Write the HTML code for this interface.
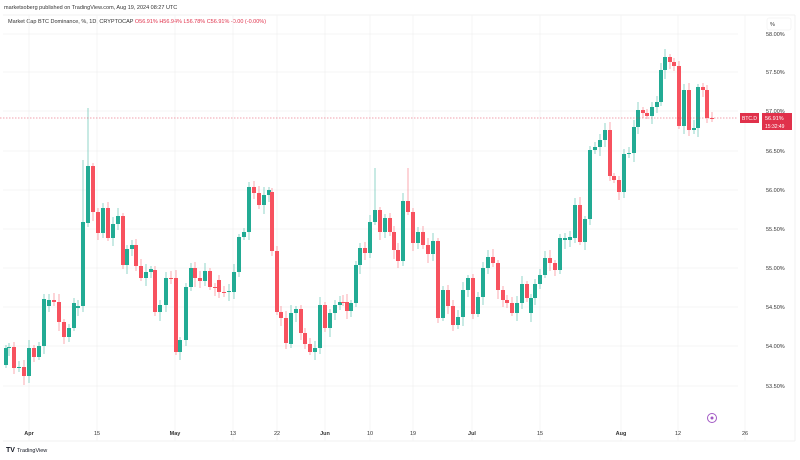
<!DOCTYPE html>
<html><head><meta charset="utf-8"><style>
html,body{margin:0;padding:0;background:#fff;width:800px;height:460px;overflow:hidden;font-family:"Liberation Sans",sans-serif}
</style></head><body>
<svg id="s" width="800" height="460" xmlns="http://www.w3.org/2000/svg" font-family="Liberation Sans, sans-serif">
<rect width="800" height="460" fill="#fff"/>
<text x="4" y="9" font-size="5.5" fill="#333">marketsoberg published on TradingView.com, Aug 19, 2024 08:27 UTC</text>
<text x="8" y="23" font-size="5.5" fill="#333">Market Cap BTC Dominance, %, 1D, CRYPTOCAP <tspan fill="#e0314b">O56.91% H56.94% L56.78% C56.91% -0.00 (-0.00%)</tspan></text>
<line x1="3" y1="15" x2="795" y2="15" stroke="#eee" stroke-width="0.8"/>
<line x1="795" y1="15" x2="795" y2="441" stroke="#eee" stroke-width="0.8"/>
<line x1="3" y1="441" x2="795" y2="441" stroke="#eee" stroke-width="0.8"/>
<g id="grid" stroke="#f2f2f2" stroke-width="0.8"></g>
<g id="c"></g>
<line x1="0" y1="118" x2="738" y2="118" stroke="#e0314b" stroke-width="0.7" stroke-dasharray="1.5,1.5" opacity="0.6"/>
<g id="ax" font-size="5.5" fill="#333"></g>
<rect x="767" y="18" width="24" height="12" rx="2" fill="#fff" stroke="#eee" stroke-width="0.6"/>
<text x="770" y="26" font-size="5.5" fill="#333">%</text>
<rect x="740" y="113" width="19" height="10" fill="#e0314b"/>
<text x="742" y="120" font-size="5" fill="#fff">BTC.D</text>
<rect x="762" y="113" width="30" height="17" fill="#e0314b"/>
<text x="765" y="120" font-size="5.5" fill="#fff">56.91%</text>
<text x="765" y="128" font-size="5" fill="#fff">15:32:49</text>
<circle cx="712" cy="418" r="4.5" fill="none" stroke="#a259c4" stroke-width="1"/>
<circle cx="712" cy="418" r="1.5" fill="#a259c4"/>
<text x="6" y="452" font-size="7" font-weight="bold" fill="#131722">TV</text>
<text x="17" y="452" font-size="5.5" fill="#131722">TradingView</text>
</svg>
<script>
var ns="http://www.w3.org/2000/svg";
function el(p,t,a,txt){var e=document.createElementNS(ns,t);for(var k in a)e.setAttribute(k,a[k]);if(txt)e.textContent=txt;document.getElementById(p).appendChild(e);return e;}
var levels=[["58.00%",34],["57.50%",72],["57.00%",111],["56.50%",151],["56.00%",190],["55.50%",229],["55.00%",268],["54.50%",307],["54.00%",346],["53.50%",386]];
levels.forEach(function(l){el("grid","line",{x1:3,x2:738,y1:l[1],y2:l[1]});el("ax","text",{x:766,y:l[1]+2},l[0]);});
var xl=[["Apr",29],["15",97],["May",175],["13",233],["22",277],["Jun",325],["10",370],["19",413],["Jul",472],["15",540],["Aug",621],["12",678],["26",745]];
xl.forEach(function(l){el("grid","line",{x1:l[1],x2:l[1],y1:15,y2:441});el("ax","text",{x:l[1],y:435,"text-anchor":"middle","font-weight":(isNaN(+l[0])?"bold":"normal")},l[0]);});
var d=[[6,365,348],[9,348,347],[14,347,368],[19,368,367],[24,367,376],[29,376,348],[34,348,357],[39,357,346],[44,346,299],[49,306,300],[54,300,302],[59,302,322],[64,322,337],[69,337,328],[74,328,303],[78,308,306],[83,306,222],[88,223,166],[93,166,212],[98,212,233],[103,233,208],[108,208,238],[113,238,224],[118,224,216],[123,216,265],[127,265,249],[132,249,245],[136,245,266],[141,266,278],[146,278,272],[151,272,269],[155,270,312],[160,312,305],[166,305,278],[171,278,279],[176,278,352],[180,352,340],[186,340,287],[191,287,268],[195,268,278],[200,278,281],[205,281,271],[210,271,287],[215,287,288],[219,280,292],[224,292,293],[229,292,291],[234,292,272],[239,272,237],[244,237,232],[249,232,187],[254,187,193],[259,193,205],[264,205,195],[269,195,190],[272,192,251],[277,251,312],[281,312,318],[286,318,343],[291,344,313],[296,313,309],[301,309,333],[305,333,344],[310,344,352],[315,352,348],[320,348,305],[325,305,328],[330,328,313],[335,313,305],[340,305,302],[343,302,303],[347,302,311],[351,311,303],[356,303,265],[360,265,248],[365,248,253],[370,253,222],[375,222,210],[380,210,232],[385,232,218],[390,218,232],[394,232,250],[398,250,261],[403,261,201],[408,201,212],[413,212,243],[418,243,232],[423,232,245],[428,245,254],[433,254,241],[438,241,318],[443,318,290],[448,290,306],[453,306,325],[458,325,317],[463,317,290],[468,290,278],[473,278,314],[478,314,297],[483,297,268],[488,268,257],[493,257,263],[498,263,290],[503,290,300],[507,300,303],[512,303,313],[517,313,303],[522,303,284],[527,284,298],[531,313,298],[535,298,284],[540,284,275],[545,275,258],[550,258,263],[555,263,270],[560,270,238],[565,240,238],[570,240,237],[575,238,205],[580,205,242],[585,242,219],[590,219,150],[595,150,147],[600,147,140],[605,140,130],[610,130,176],[614,176,180],[619,180,192],[624,192,154],[629,154,153],[634,153,127],[638,127,110],[643,110,113],[647,113,116],[652,116,107],[657,107,102],[661,102,70],[665,70,57],[670,57,62],[674,62,66],[679,66,126],[684,126,90],[689,90,130],[694,130,128],[698,128,87],[703,87,90],[707,90,118],[712,118,119]];
var hiX={88:108,83:160,375:168,408:168};
d.forEach(function(c,i){var x=c[0],o=c[1],cl=c[2];var up=cl<o;var col=up?"#22ab94":"#f7525f";
var t=Math.min(o,cl),b=Math.max(o,cl);var hi=t-3-(i*7%6),lo=b+3+(i*5%7);
if(hiX[x])hi=hiX[x];
el("c","line",{x1:x,x2:x,y1:hi,y2:lo,stroke:col,"stroke-width":0.7,opacity:0.7});
el("c","rect",{x:x-2,y:t,width:4,height:Math.max(b-t,1),fill:col});});
</script>
</body></html>
